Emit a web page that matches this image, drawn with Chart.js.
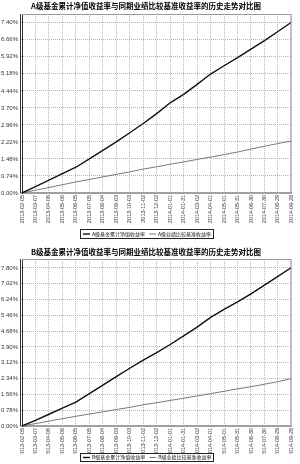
<!DOCTYPE html>
<html>
<head>
<meta charset="utf-8">
<script src="https://cdn.jsdelivr.net/npm/chart.js@4/dist/chart.umd.min.js"></script>
<style>
  body { margin: 0; background: #fff; width: 300px; height: 464px; overflow: hidden; position: relative; }
  .box { position: absolute; left: 0; width: 300px; }
  #boxA { top: 0; height: 244px; }
  #boxB { top: 244px; height: 220px; }
</style>
</head>
<body>
<div class="box" id="boxA"><canvas id="chartA"></canvas></div>
<div class="box" id="boxB"><canvas id="chartB"></canvas></div>
<script>
// x axis dates (30 day steps)
const dates = ['2013-02-05', '2013-03-07', '2013-04-06', '2013-05-06', '2013-06-05', '2013-07-05',
    '2013-08-04', '2013-09-03', '2013-10-03', '2013-11-02', '2013-12-02', '2014-01-01', '2014-01-31',
    '2014-03-02', '2014-04-01', '2014-05-01', '2014-05-31', '2014-06-30', '2014-07-30', '2014-08-29',
    '2014-09-28'];

const yTicksA = [0, 0.74, 1.48, 2.22, 2.96, 3.70, 4.44, 5.18, 5.92, 6.66, 7.40];
const yTicksB = [0, 0.78, 1.56, 2.34, 3.12, 3.90, 4.68, 5.46, 6.24, 7.02, 7.80];

const fundA = [0, 0.28, 0.56, 0.84, 1.12, 1.48, 1.85, 2.22, 2.62, 3.02, 3.45, 3.92, 4.29, 4.72,
    5.17, 5.53, 5.88, 6.25, 6.62, 7.02, 7.42];
const benchA = [0, 0.12, 0.24, 0.36, 0.48, 0.59, 0.70, 0.81, 0.92, 1.04, 1.14, 1.25, 1.35, 1.46,
    1.56, 1.67, 1.78, 1.91, 2.03, 2.15, 2.26];

const fundB = [0, 0.28, 0.58, 0.88, 1.18, 1.60, 2.02, 2.44, 2.85, 3.25, 3.62, 4.02, 4.45, 4.88,
    5.36, 5.75, 6.12, 6.52, 6.95, 7.38, 7.82];
const benchB = [0, 0.12, 0.24, 0.36, 0.48, 0.59, 0.70, 0.81, 0.92, 1.05, 1.15, 1.26, 1.37, 1.48,
    1.60, 1.71, 1.83, 1.94, 2.06, 2.19, 2.34];

const titleA = 'A级基金累计净值收益率与同期业绩比较基准收益率的历史走势对比图';
const titleB = 'B级基金累计净值收益率与同期业绩比较基准收益率的历史走势对比图';
const labelsA = ['A级基金累计净值收益率', 'A级业绩比较基准收益率'];
const labelsB = ['B级基金累计净值收益率', 'B级业绩比较基准收益率'];

// frame round the plot + boxed legend under the axis
const frame = {
    id: 'frame',
    afterDraw(chart, args, opts) {
        const {ctx, chartArea: a} = chart;
        ctx.save();
        ctx.strokeStyle = '#9a9a9a';
        ctx.lineWidth = 1;
        ctx.beginPath();
        ctx.moveTo(a.left, a.top + 0.5);
        ctx.lineTo(a.right - 0.5, a.top + 0.5);
        ctx.lineTo(a.right - 0.5, a.bottom);
        ctx.stroke();
        ctx.strokeStyle = '#333';
        ctx.beginPath();
        ctx.moveTo(a.left - 1.5, a.top);
        ctx.lineTo(a.left - 1.5, a.bottom);
        ctx.stroke();

        const {x, y, w, h} = opts;
        ctx.strokeStyle = '#222';
        ctx.strokeRect(x + 0.5, y + 0.5, w, h);
        ctx.font = '5px "Noto Sans CJK SC"';
        ctx.textBaseline = 'middle';
        let cx = x + 3;
        const cy = y + 0.5 + h / 2;
        chart.data.datasets.forEach(ds => {
            ctx.strokeStyle = ds.borderColor;
            ctx.lineWidth = ds.borderWidth;
            ctx.beginPath();
            ctx.moveTo(cx, cy);
            ctx.lineTo(cx + 7, cy);
            ctx.stroke();
            cx += 9;
            ctx.fillStyle = '#111';
            ctx.fillText(ds.label, cx, cy);
            cx += ctx.measureText(ds.label).width + 4;
        });
        ctx.restore();
    }
};

const make_chart = (id, title, labels, fund, bench, yTicks, yMax, pad, xHeight, legend) => {
    const ctx = document.getElementById(id).getContext('2d');
    return new Chart(ctx, {
        type: 'line',
        data: {
            labels: dates,
            datasets: [
                {
                    label: labels[0],
                    data: fund,
                    borderColor: '#111',
                    borderWidth: 1.4,
                    pointRadius: 0,
                    tension: 0,
                },
                {
                    label: labels[1],
                    data: bench,
                    borderColor: '#6a6a6a',
                    borderWidth: 0.9,
                    pointRadius: 0,
                    tension: 0,
                },
            ],
        },
        options: {
            responsive: true,
            maintainAspectRatio: false,
            animation: false,
            layout: { padding: { left: 0, right: 8, top: 0, bottom: pad.bottom } },
            scales: {
                x: {
                    grid: { color: '#b8b8b8', lineWidth: 1, drawTicks: false },
                    border: { display: true, color: '#a0a0a0', width: 2, dash: [1, 1] },
                    ticks: {
                        autoSkip: false,
                        minRotation: 90,
                        maxRotation: 90,
                        padding: 2,
                        color: '#333',
                        font: { family: 'Liberation Sans', size: 5.5 },
                    },
                    afterFit: scale => { scale.height = xHeight; },
                },
                y: {
                    min: 0,
                    max: yMax,
                    grid: { color: '#b8b8b8', lineWidth: 1, tickLength: 2 },
                    border: { display: true, color: '#333', width: 1, dash: [1, 1] },
                    ticks: {
                        padding: 2,
                        color: '#333',
                        font: { family: 'Liberation Sans', size: 6 },
                        callback: v => v.toFixed(2) + '%',
                    },
                    afterBuildTicks: scale => { scale.ticks = yTicks.map(v => ({value: v})); },
                    afterFit: scale => { scale.width = 22; },
                },
            },
            plugins: {
                legend: { display: false },
                tooltip: { enabled: false },
                title: {
                    display: true,
                    text: title,
                    color: '#000',
                    font: { family: 'Noto Sans CJK SC', size: 7.5, weight: 'bold' },
                    padding: { top: pad.titleTop, bottom: pad.titleBottom },
                },
                frame: legend,
            },
        },
        plugins: [frame],
    });
};

make_chart('chartA', titleA, labelsA, fundA, benchA, yTicksA, 7.78,
    { bottom: 19, titleTop: 1.5, titleBottom: 3.5 }, 32, { x: 80, y: 229, w: 133, h: 9 });
make_chart('chartB', titleB, labelsB, fundB, benchB, yTicksB, 8.24,
    { bottom: 10, titleTop: 4, titleBottom: 2 }, 28, { x: 80, y: 209, w: 133, h: 8 });
</script>
</body>
</html>
